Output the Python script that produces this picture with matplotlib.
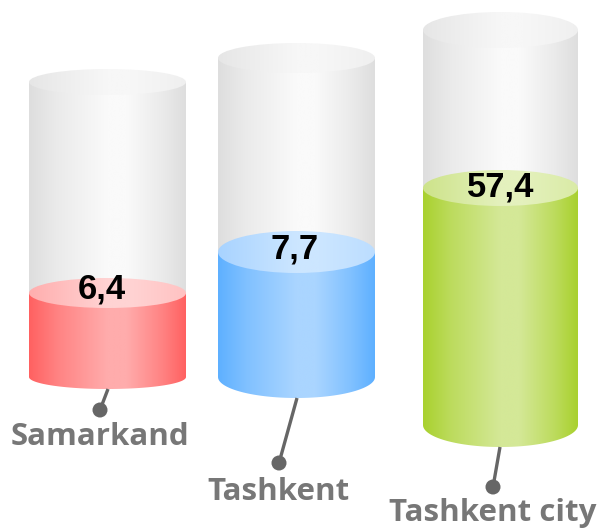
import numpy as np
import matplotlib
matplotlib.use("Agg")
import matplotlib.pyplot as plt
from matplotlib.patches import Ellipse, Polygon, Circle
from matplotlib.colors import to_rgb

# ---- data ----
categories = ["Samarkand", "Tashkent", "Tashkent city"]
values = [6.4, 7.7, 57.4]
value_labels = ["6,4", "7,7", "57,4"]

# ---- layout (pixel space of a 603x530 canvas) ----
x_left = [29, 218, 423]
x_right = [186, 375, 578]
grey_top = [82, 58, 30]
grey_top_ry = [13, 15, 18]
grey_bottom = [343, 360, 372]
fill_top = [293, 252, 188]
fill_top_ry = [15, 21, 18]
fill_bottom = [377, 377, 425]
fill_bottom_ry = [12, 21, 22]
pointer_start = [(108, 389), (297, 398), (500, 447)]
dot_center = [(100, 410), (279, 463), (493, 487)]
label_baseline = [445, 500, 521]
label_x = [100, 278, 493]
value_xy = [(102, 298), (295, 259), (501, 197)]

body_colors = [("#ff6161", "#ffacac"), ("#5eb0ff", "#aad5ff"), ("#a9d12e", "#d4e897")]
top_colors = [("#ffaeae", "#ffd3d3"), ("#a8d3ff", "#cce6ff"), ("#cde38a", "#e4f1bd")]
grey_body = ("#dedede", "#fafafa")
grey_topc = ("#e6e6e6", "#f7f7f7")

fig = plt.figure(figsize=(6.03, 5.30), dpi=100)
ax = fig.add_axes([0, 0, 1, 1])
ax.set_xlim(0, 603)
ax.set_ylim(530, 0)
ax.axis("off")


def gradient(dark, light, n=256, stops=(0.0, 0.18, 0.5, 0.62, 0.85, 1.0), weights=(0, 0.45, 1, 1, 0.45, 0)):
    d = np.array(to_rgb(dark))
    l = np.array(to_rgb(light))
    t = np.linspace(0, 1, n)
    w = np.interp(t, stops, weights)
    img = d[None, :] * (1 - w[:, None]) + l[None, :] * w[:, None]
    return img[None, :, :]


def top_gradient(c0, c1, n=256):
    a = np.array(to_rgb(c0))
    b = np.array(to_rgb(c1))
    t = np.linspace(0, 1, n)
    w = np.interp(t, [0, 0.5, 0.65, 1], [0, 1, 1, 0.55])
    img = a[None, :] * (1 - w[:, None]) + b[None, :] * w[:, None]
    return img[None, :, :]


def cylinder(x0, x1, yt, ryt, yb, ryb, bcols, tcols, z):
    cx = (x0 + x1) / 2
    rx = (x1 - x0) / 2
    th = np.linspace(0, np.pi, 80)
    pts = [(x0, yt), (x1, yt)]
    pts += [(cx + rx * np.cos(t), yb + ryb * np.sin(t)) for t in th]
    body = Polygon(pts, closed=True, facecolor="none", edgecolor="none", zorder=z)
    ax.add_patch(body)
    im = ax.imshow(gradient(*bcols), extent=(x0, x1, yb + ryb + 1, yt - 1),
                   aspect="auto", zorder=z, interpolation="bilinear")
    im.set_clip_path(body)
    top = Ellipse((cx, yt), 2 * rx, 2 * ryt, facecolor="none", edgecolor="none", zorder=z + 0.5)
    ax.add_patch(top)
    im2 = ax.imshow(top_gradient(*tcols), extent=(x0, x1, yt + ryt + 1, yt - ryt - 1),
                    aspect="auto", zorder=z + 0.5, interpolation="bilinear")
    im2.set_clip_path(top)


for i in range(len(categories)):
    cylinder(x_left[i], x_right[i], grey_top[i], grey_top_ry[i], grey_bottom[i],
             grey_top_ry[i], grey_body, grey_topc, 1)
    cylinder(x_left[i], x_right[i], fill_top[i], fill_top_ry[i], fill_bottom[i],
             fill_bottom_ry[i], body_colors[i], top_colors[i], 3)
    (sx, sy), (dx, dy) = pointer_start[i], dot_center[i]
    ax.plot([sx, dx], [sy, dy], color="#666666", lw=2.4, zorder=5, solid_capstyle="butt")
    ax.add_patch(Circle((dx, dy), 7.5, facecolor="#666666", edgecolor="none", zorder=6))
    ax.text(label_x[i], label_baseline[i], categories[i], ha="center", va="baseline",
            fontsize=22.5, fontweight="bold", family="Open Sans", color="#777777", zorder=7)
    vx, vy = value_xy[i]
    ax.text(vx, vy, value_labels[i], ha="center", va="baseline", fontsize=25,
            fontweight="bold", family="Liberation Sans", color="black", zorder=8)

fig.savefig("out.png", dpi=100)
